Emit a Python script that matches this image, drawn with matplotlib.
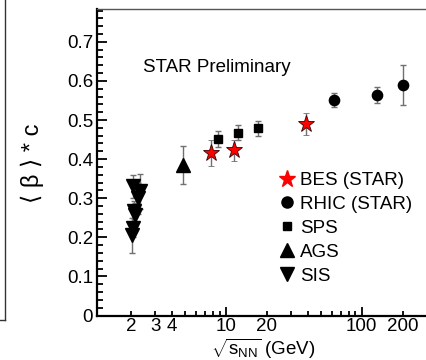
import numpy as np
import matplotlib
matplotlib.use("Agg")
import matplotlib.pyplot as plt
from matplotlib.lines import Line2D
from matplotlib.ticker import FixedLocator, FixedFormatter, MultipleLocator, FuncFormatter

plt.rcParams["font.family"] = ["Liberation Sans", "DejaVu Sans"]
plt.rcParams["mathtext.fontset"] = "custom"
plt.rcParams["mathtext.rm"] = "Liberation Sans"
plt.rcParams["mathtext.it"] = "Liberation Sans:italic"

# mean flow velocity vs collision energy
bes_x = [7.7, 11.5, 39.0]
bes_y = [0.415, 0.423, 0.490]
bes_err = [0.033, 0.027, 0.029]

rhic_x = [62.4, 130.0, 200.0]
rhic_y = [0.551, 0.564, 0.590]
rhic_err = [0.018, 0.020, 0.052]

sps_x = [8.8, 12.3, 17.3]
sps_y = [0.451, 0.468, 0.479]
sps_err = [0.020, 0.020, 0.019]

ags_x = [4.8]
ags_y = [0.385]
ags_err = [0.049]

sis_x = [2.05, 2.33, 2.25, 2.10, 2.15, 2.08, 2.02]
sis_y = [0.330, 0.318, 0.300, 0.268, 0.258, 0.225, 0.205]
sis_err = [0.030, 0.045, 0.040, 0.025, 0.030, 0.025, 0.045]

x_major = [10, 100]
x_minor = [2, 3, 4, 5, 6, 7, 8, 9, 20, 30, 40, 50, 60, 70, 80, 90, 200]
x_minor_labels = ["2", "3", "4", "", "", "", "", "", "20", "", "", "", "", "", "", "", "200"]

FS = 13.5
W, H = 426, 360
fig = plt.figure(figsize=(W / 100, H / 100), dpi=100)
ax = fig.add_axes([96.7 / W, 1 - 315.5 / H, 1 - 96.7 / W, (315.5 - 9) / H])

err_kw = dict(ls="none", ecolor="#707070", elinewidth=1.0, capsize=2.5, capthick=1.0)

ax.errorbar(sis_x, sis_y, yerr=sis_err, marker="v", ms=10.5, mfc="black", mec="black", **err_kw)
ax.errorbar(ags_x, ags_y, yerr=ags_err, marker="^", ms=9.5, mfc="black", mec="black", **err_kw)
ax.errorbar(sps_x, sps_y, yerr=sps_err, marker="s", ms=6.3, mfc="black", mec="black", **err_kw)
ax.errorbar(rhic_x, rhic_y, yerr=rhic_err, marker="o", ms=7.4, mfc="black", mec="black", **err_kw)
ax.errorbar(bes_x, bes_y, yerr=bes_err, marker="*", ms=12.5, mfc="red", mec="#400000", mew=0.6, **err_kw)

ax.set_xscale("log")
ax.set_xlim(1.114, 298)
ax.set_ylim(0, 0.784)

ax.xaxis.set_major_locator(FixedLocator(x_major))
ax.xaxis.set_major_formatter(FixedFormatter(["10", "100"]))
ax.xaxis.set_minor_locator(FixedLocator(x_minor))
ax.xaxis.set_minor_formatter(FixedFormatter(x_minor_labels))
ax.yaxis.set_major_locator(MultipleLocator(0.1))
ax.yaxis.set_minor_locator(MultipleLocator(0.02))
ax.yaxis.set_major_formatter(FuncFormatter(lambda v, p: "%g" % round(v, 2)))

ax.tick_params(axis="both", which="both", direction="in", labelsize=FS, width=1.3, color="black")
ax.tick_params(axis="y", which="major", length=7.5, pad=2.5)
ax.tick_params(axis="y", which="minor", length=4.3)
ax.tick_params(axis="x", which="major", length=6.5, pad=2)
ax.tick_params(axis="x", which="minor", length=3.3, pad=2)

ax.spines["right"].set_visible(False)
ax.spines["left"].set_linewidth(1.6)
ax.spines["bottom"].set_linewidth(1.6)
ax.spines["top"].set_linewidth(1.0)
ax.spines["top"].set_color("#555555")

ax.set_xlabel(r"$\sqrt{\mathrm{s}_{\mathrm{NN}}}$ (GeV)", fontsize=FS, labelpad=0)
ax.xaxis.set_label_coords((263 - 96.7) / (W - 96.7), -(336.5 - 315.5) / (315.5 - 9))
ax.set_ylabel("⟨ β ⟩ * c", fontsize=17)
ax.yaxis.set_label_coords(-(96.7 - 44) / (W - 96.7), (315.5 - 163) / (315.5 - 9))

fig.text(143 / W, 1 - 71.7 / H, "STAR Preliminary", fontsize=FS, va="baseline", ha="left")

handles = [
    Line2D([], [], ls="none", marker="*", ms=12.5, mfc="red", mec="red"),
    Line2D([], [], ls="none", marker="o", ms=8, mfc="black", mec="black"),
    Line2D([], [], ls="none", marker="s", ms=6.3, mfc="black", mec="black"),
    Line2D([], [], ls="none", marker="^", ms=9.5, mfc="black", mec="black"),
    Line2D([], [], ls="none", marker="v", ms=9.5, mfc="black", mec="black"),
]
labels = ["BES (STAR)", "RHIC (STAR)", "SPS", "AGS", "SIS"]
ax.legend(handles, labels, loc="upper left", bbox_to_anchor=(277.6 / W, 1 - 172 / H),
          bbox_transform=fig.transFigure, frameon=False, fontsize=FS, borderpad=0,
          borderaxespad=0, handlelength=1.0, handletextpad=0.2, labelspacing=0.36)

# outer panel frame corner
fig.add_artist(Line2D([5 / W, 5 / W], [1.0, 1 - 320 / H], transform=fig.transFigure, color="#333333", lw=1.0))
fig.add_artist(Line2D([0, 5 / W], [1 - 320 / H, 1 - 320 / H], transform=fig.transFigure, color="#333333", lw=1.0))

fig.savefig("out.png", dpi=100)
